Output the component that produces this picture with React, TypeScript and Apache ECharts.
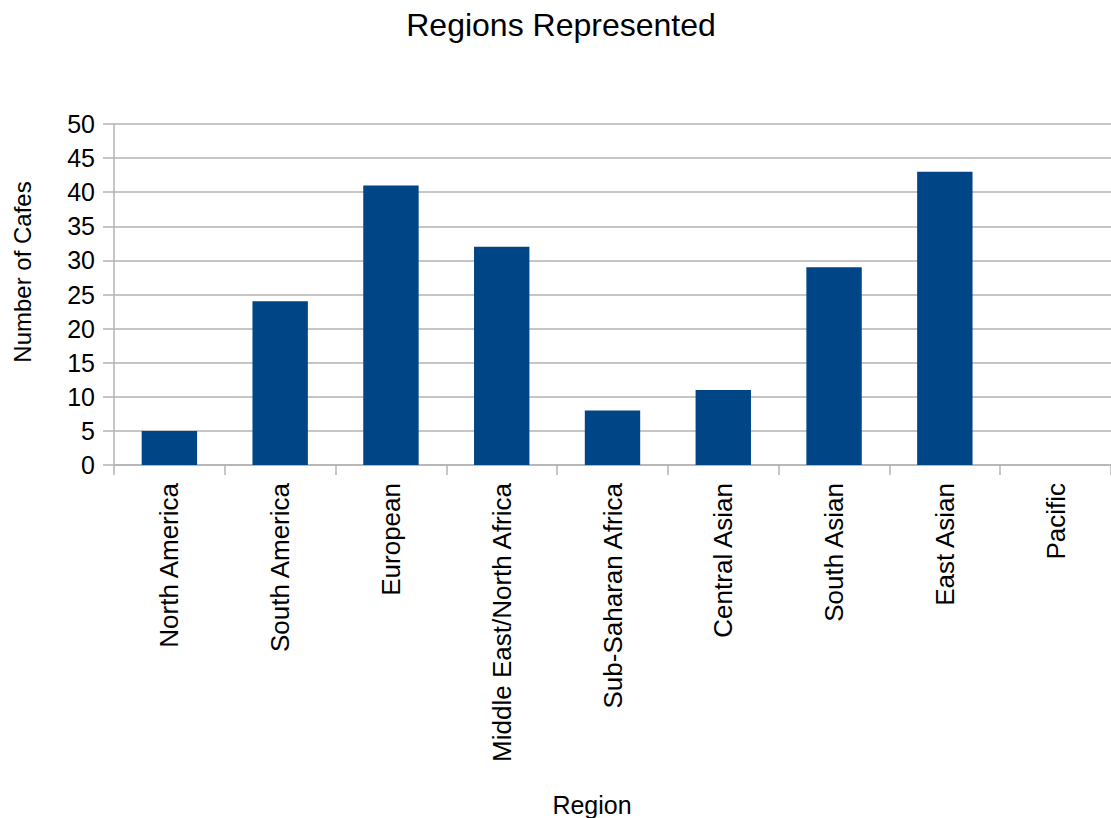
import React, { useEffect, useRef } from "react";
import * as echarts from "echarts";

// Regions and cafe counts
const regions = [
  "North America",
  "South America",
  "European",
  "Middle East/North Africa",
  "Sub-Saharan Africa",
  "Central Asian",
  "South Asian",
  "East Asian",
  "Pacific",
];
const cafeCounts = [5, 24, 41, 32, 8, 11, 29, 43, 0];
const yMin = 0;
const yMax = 50;
const yStep = 5;

const FONT = "'Liberation Sans', Arial, sans-serif";
const GRID = "#b3b3b3";

export default function App() {
  const ref = useRef<HTMLDivElement>(null);

  useEffect(() => {
    if (!ref.current) return;
    const chart = echarts.init(ref.current, null, { renderer: "svg" });
    chart.setOption({
      animation: false,
      backgroundColor: "#ffffff",
      textStyle: { fontFamily: FONT },
      title: {
        text: "Regions Represented",
        left: 556,
        top: 4,
        textAlign: "center",
        textStyle: { fontFamily: FONT, fontSize: 32, fontWeight: "normal", color: "#000" },
      },
      grid: { left: 114, right: -8, top: 124, bottom: 353, containLabel: false },
      xAxis: {
        type: "category",
        data: regions,
        axisLine: { show: true, lineStyle: { color: GRID, width: 1.5 } },
        axisTick: { show: true, length: 10, lineStyle: { color: GRID, width: 1.5 } },
        axisLabel: {
          rotate: 90,
          margin: 18,
          fontFamily: FONT,
          fontSize: 26,
          color: "#000",
          interval: 0,
        },
      },
      yAxis: {
        type: "value",
        min: yMin,
        max: yMax,
        interval: yStep,
        axisLine: { show: true, lineStyle: { color: GRID, width: 1.5 } },
        axisTick: { show: true, length: 11, lineStyle: { color: GRID, width: 1.5 } },
        splitLine: { show: true, lineStyle: { color: GRID, width: 1.5 } },
        axisLabel: { margin: 19, fontFamily: FONT, fontSize: 25, color: "#000" },
      },
      graphic: [
        {
          type: "text",
          x: 22,
          y: 272,
          rotation: Math.PI / 2,
          style: {
            text: "Number of Cafes",
            font: `24px ${FONT}`,
            fill: "#000",
            align: "center",
            verticalAlign: "middle",
          },
        },
        {
          type: "text",
          x: 592,
          y: 805,
          style: {
            text: "Region",
            font: `25px ${FONT}`,
            fill: "#000",
            align: "center",
            verticalAlign: "middle",
          },
        },
      ],
      series: [
        {
          type: "bar",
          data: cafeCounts,
          barWidth: "50%",
          itemStyle: { color: "#004586" },
        },
      ],
    });
    return () => chart.dispose();
  }, []);

  return (
    <div
      ref={ref}
      style={{ position: "fixed", left: 0, top: 0, width: 1111, height: 818, overflow: "hidden" }}
    />
  );
}
